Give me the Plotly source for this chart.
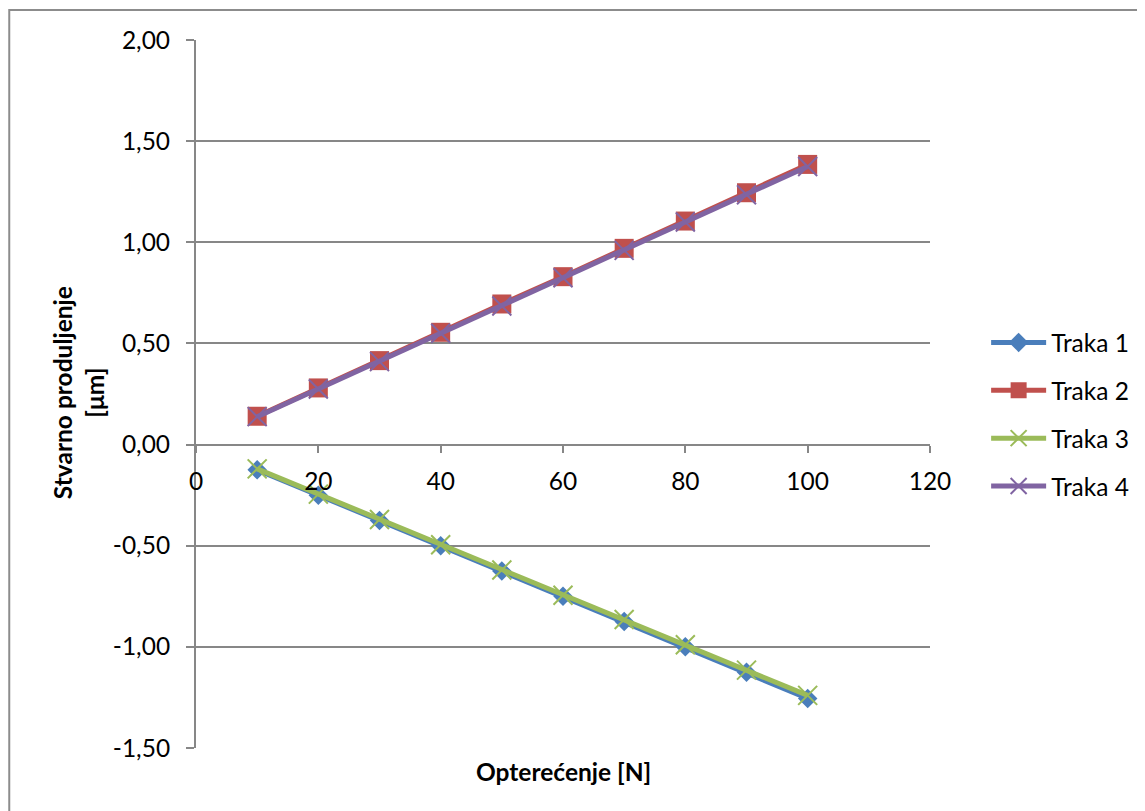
import plotly.graph_objects as go

opterecenje = [10, 20, 30, 40, 50, 60, 70, 80, 90, 100]
traka_1 = [-0.125, -0.25, -0.375, -0.50, -0.625, -0.75, -0.875, -1.00, -1.125, -1.255]
traka_2 = [0.14, 0.28, 0.415, 0.555, 0.695, 0.83, 0.97, 1.105, 1.245, 1.385]
traka_3 = [-0.12, -0.245, -0.37, -0.495, -0.62, -0.745, -0.865, -0.99, -1.115, -1.24]
traka_4 = [0.138, 0.275, 0.41, 0.55, 0.685, 0.825, 0.96, 1.10, 1.235, 1.375]
names = ["Traka 1", "Traka 2", "Traka 3", "Traka 4"]

y_tick_vals = [-1.5, -1.0, -0.5, 0.0, 0.5, 1.0, 1.5, 2.0]
y_tick_text = ["-1,50", "-1,00", "-0,50", "0,00", "0,50", "1,00", "1,50", "2,00"]
x_tick_vals = [0, 20, 40, 60, 80, 100, 120]

FONT = "Lato"
FS = 24.5
GRID = "#878787"

# page body has an 8px margin; plot area targeted at screen x 196..931, y 40..748
OFF = 8
W, H = 1145 - OFF, 811 - OFF
L, R_EDGE, T, B_EDGE = 196 - OFF, 931 - OFF, 40 - OFF, 748 - OFF

fig = go.Figure()
styles = [
    (traka_1, "#4A7EBB", dict(symbol="diamond", size=15)),
    (traka_2, "#C0504D", dict(symbol="square", size=19)),
    (traka_3, "#9BBB59", dict(symbol="x-thin", size=19, line=dict(width=2, color="#9BBB59"))),
    (traka_4, "#8064A2", dict(symbol="x-thin", size=19, line=dict(width=2, color="#8064A2"))),
]
for name, (vals, col, mk) in zip(names, styles):
    mk = dict(mk)
    mk["color"] = col
    fig.add_trace(go.Scatter(
        x=opterecenje, y=vals, name=name, legendgroup=name,
        mode="lines+markers",
        line=dict(color=col, width=5),
        marker=mk,
    ))

fig.update_layout(
    width=W, height=H,
    margin=dict(l=L, r=W - R_EDGE, t=T, b=H - B_EDGE),
    paper_bgcolor="white", plot_bgcolor="white",
    separators=",.",
    font=dict(family=FONT, size=FS, color="black"),
    showlegend=True,
    legend=dict(
        x=1.075, y=0.471, xanchor="left", yanchor="middle",
        font=dict(family=FONT, size=FS, color="black"),
        tracegroupgap=13, itemwidth=55,
        bgcolor="rgba(0,0,0,0)",
    ),
    xaxis=dict(
        range=[0, 120], tickvals=x_tick_vals,
        anchor="free", position=1.5 / 3.5,
        showgrid=False, zeroline=False,
        showline=True, linecolor=GRID, linewidth=2,
        ticks="outside", ticklen=7, tickwidth=2, tickcolor=GRID,
        ticklabelstandoff=8,
        tickfont=dict(family=FONT, size=FS, color="black"),
    ),
    yaxis=dict(
        range=[-1.5, 2.0], tickvals=y_tick_vals, ticktext=y_tick_text,
        showgrid=True, gridcolor=GRID, gridwidth=2,
        zeroline=False,
        showline=True, linecolor=GRID, linewidth=2,
        ticks="outside", ticklen=8, tickwidth=2, tickcolor=GRID,
        ticklabelstandoff=11,
        tickfont=dict(family=FONT, size=FS, color="black"),
    ),
)

fig.add_annotation(
    text="<b>Stvarno produljenje</b><br><b>[μm]</b>",
    xref="paper", yref="paper",
    x=(78 - 196) / 735, y=(748 - 393) / 708,
    xanchor="center", yanchor="middle",
    textangle=-90, showarrow=False,
    font=dict(family=FONT, size=FS, color="black"),
)
fig.add_annotation(
    text="<b>Opterećenje [N]</b>",
    xref="paper", yref="paper",
    x=0.5, y=(748 - 772) / 708,
    xanchor="center", yanchor="middle",
    showarrow=False,
    font=dict(family=FONT, size=FS, color="black"),
)
fig.add_shape(
    type="path", xref="paper", yref="paper",
    path="M %f %f L %f %f L %f %f" % (
        (9 - 196) / 735, (748 - 830) / 708,
        (9 - 196) / 735, (748 - 10) / 708,
        (1160 - 196) / 735, (748 - 10) / 708),
    line=dict(color="#8C8C8C", width=2),
)

fig.write_html("out.html")
